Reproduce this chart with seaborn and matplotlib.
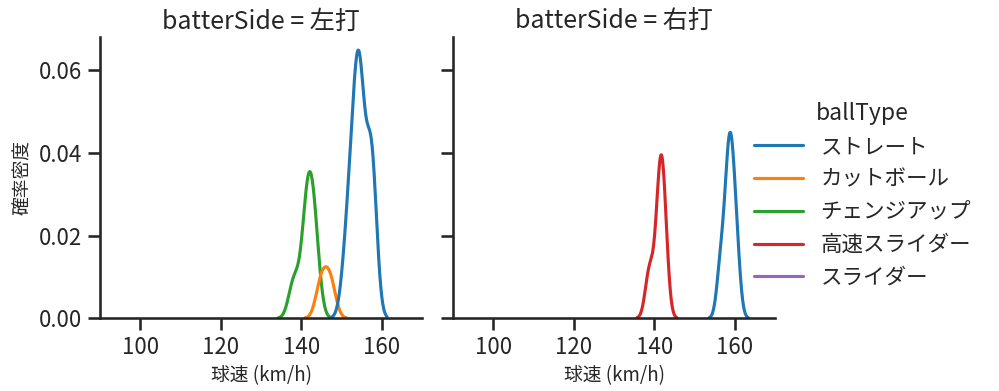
import pandas as pd
import matplotlib
matplotlib.use('Agg')
import matplotlib.pyplot as plt
import seaborn as sns

ball_types = ['ストレート', 'カットボール', 'チェンジアップ', '高速スライダー', 'スライダー']
sides = ['左打', '右打']

# 左打
left_straight = [151, 152, 153, 153, 154, 154, 154.5, 154.5, 155, 155.5, 157.5, 157.5, 157.5, 157.5]
left_cutter = [145.0, 147.2]
left_changeup = [138.2, 141, 141.5, 142, 143, 143.5]
# 右打
right_straight = [156.5, 158, 158.5, 159, 159.5, 160.5]
right_fast_slider = [138.8, 141, 141.5, 142, 142.5]
right_slider = [131.0]  # 1球のみ -> 密度は描かれない

rows = []
for side, btype, speeds in [
    ('左打', 'ストレート', left_straight),
    ('左打', 'カットボール', left_cutter),
    ('左打', 'チェンジアップ', left_changeup),
    ('右打', 'ストレート', right_straight),
    ('右打', '高速スライダー', right_fast_slider),
    ('右打', 'スライダー', right_slider),
]:
    for v in speeds:
        rows.append({'batterSide': side, 'ballType': btype, '球速': v})
df = pd.DataFrame(rows)

sns.set_theme(style='ticks', context='talk', palette='tab10')
plt.rcParams['font.family'] = ['Noto Sans CJK JP', 'DejaVu Sans']
plt.rcParams.update({
    'axes.titlesize': 17.5,
    'xtick.labelsize': 16,
    'ytick.labelsize': 16,
    'xtick.major.size': 8.5,
    'ytick.major.size': 8.5,
    'xtick.major.pad': 4.5,
    'ytick.major.pad': 4.5,
})

g = sns.displot(data=df, x='球速', hue='ballType', col='batterSide', kind='kde',
                hue_order=ball_types, col_order=sides, height=4, aspect=1)
g.set(xlim=(90, 170))
g.set_axis_labels('球速 (km/h)', '確率密度', fontsize=13.5)
g.figure.set_size_inches(9.99, 3.91)
g.figure.subplots_adjust(left=0.1001, right=0.7758, bottom=0.186, top=0.906, wspace=0.0963)
sns.move_legend(g, 'center left', bbox_to_anchor=(0.735, 0.50), frameon=False,
                fontsize=15.5, title_fontsize=16.5, handlelength=2.3)
g.figure.savefig('out.png', dpi=100)
plt.close()
